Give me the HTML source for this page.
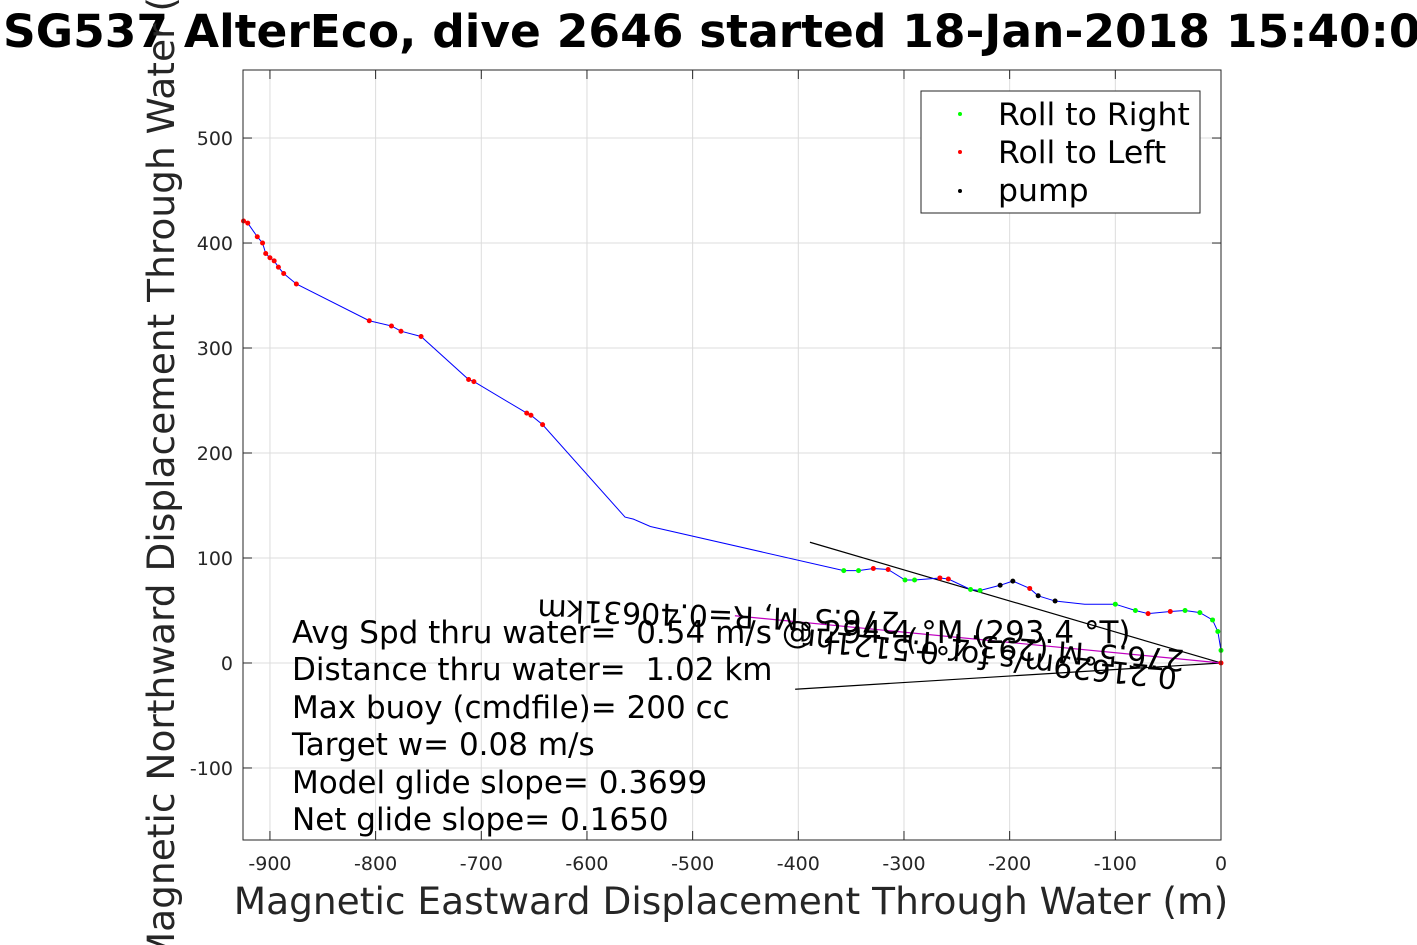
<!DOCTYPE html>
<html><head><meta charset="utf-8"><style>
html,body{margin:0;padding:0;background:#fff;}
svg{display:block;font-family:"DejaVu Sans","Liberation Sans",sans-serif;}
text{white-space:pre;}
</style></head><body>
<svg id="chart" width="1417" height="945" viewBox="0 0 1417 945" xmlns="http://www.w3.org/2000/svg">
<rect width="1417" height="945" fill="#fff"/>
<text x="3" y="47" font-size="45.5" font-weight="bold" fill="#000">SG537 AlterEco, dive 2646 started 18-Jan-2018 15:40:09</text>
<g id="grid"></g>
<g id="ticks"></g>
<g id="series"></g>
<rect x="243" y="70" width="978" height="770" fill="none" stroke="#262626" stroke-width="1"/>
<text x="731" y="914" font-size="37.5" text-anchor="middle" fill="#262626">Magnetic Eastward Displacement Through Water (m)</text>
<text transform="translate(174,455) rotate(-90)" font-size="37.5" text-anchor="middle" fill="#262626">Magnetic Northward Displacement Through Water (m)</text>
<g font-size="31" fill="#000">
<text x="292" y="643">Avg Spd thru water=  0.54 m/s @ 294.4 °M (293.4 °T)</text>
<text x="292" y="680">Distance thru water=  1.02 km</text>
<text x="292" y="718">Max buoy (cmdfile)= 200 cc</text>
<text x="292" y="755">Target w= 0.08 m/s</text>
<text x="292" y="793">Model glide slope= 0.3699</text>
<text x="292" y="830">Net glide slope= 0.1650</text>
</g>
<g font-size="30" fill="#000">
<text transform="translate(1178,668) rotate(186)">0.21629m/s for 0.5121hr</text>
<text transform="translate(1185,650) rotate(184)">276.5°M (293.4°T)</text>
<text transform="translate(900,612) rotate(182)">276.5°M, R=0.40631km</text>
</g>
<g>
<rect x="921" y="91" width="279" height="122" fill="#fff" stroke="#262626"/>
<circle cx="960" cy="114" r="2" fill="#00ff00"/>
<text x="998" y="125" font-size="31.5">Roll to Right</text>
<circle cx="960" cy="152" r="2" fill="#ff0000"/>
<text x="998" y="163" font-size="31.5">Roll to Left</text>
<circle cx="960" cy="191" r="2" fill="#000"/>
<text x="998" y="201" font-size="31.5">pump</text>
</g>
</svg>
<script>
const xTicks=[-900,-800,-700,-600,-500,-400,-300,-200,-100,0];
const yTicks=[-100,0,100,200,300,400,500];
const trackX=[-925,-921,-912,-907,-904,-900,-896,-892,-887,-875,-806,-785,-776,-757,-712,-707,-657,-653,-642,-564,-556,-540,-357,-343,-329,-315,-299,-290,-266,-258,-237,-228,-209,-197,-181,-173,-157,-129,-100,-81,-69,-48,-34,-20,-8,-3,0,0];
const trackY=[421,419,406,400,390,386,383,377,371,361,326,321,316,311,270,268,238,236,227,139,137,130,88,88,90,89,79,79,81,80,70,69,74,78,71,64,59,56,56,50,47,49,50,48,41,30,12,0];
const markerType=["L","L","L","L","L","L","L","L","L","L","L","L","L","L","L","L","L","L","L","N","N","N","G","G","L","L","G","G","L","L","G","G","P","P","L","P","P","N","G","G","L","L","G","G","G","G","G","L"];
const headLineA=[[-389,115],[0,0]];
const headLineB=[[-403,-25],[0,0]];
const currentLine=[[-460,45],[0,0]];

const X0=243,X1=1221,Y0=70,Y1=840,xMin=-925.5,xMax=0,yMin=-168.6,yMax=564.8;
const sx=v=>X0+(v-xMin)/(xMax-xMin)*(X1-X0);
const sy=v=>Y1-(v-yMin)/(yMax-yMin)*(Y1-Y0);
const NS="http://www.w3.org/2000/svg";
function mk(tag,attrs,parent){const e=document.createElementNS(NS,tag);for(const k in attrs)e.setAttribute(k,attrs[k]);parent.appendChild(e);return e;}
const grid=document.getElementById('grid'),ticks=document.getElementById('ticks'),series=document.getElementById('series');
xTicks.forEach(t=>{const x=sx(t);
 const g=mk('line',{x1:x,x2:x,y1:Y0,y2:Y1,stroke:'#dcdcdc','stroke-width':1},grid);
 
 
 mk('line',{x1:x,x2:x,y1:Y1,y2:Y1-9,stroke:'#262626'},ticks);
 mk('line',{x1:x,x2:x,y1:Y0,y2:Y0+9,stroke:'#262626'},ticks);
 const l=mk('text',{x:x,y:Y1+30,'font-size':19,'text-anchor':'middle',fill:'#262626'},ticks);
 l.textContent=t;
 
 
});
yTicks.forEach(t=>{const y=sy(t);
 const g=mk('line',{x1:X0,x2:X1,y1:y,y2:y,stroke:'#dcdcdc','stroke-width':1},grid);
 
 
 mk('line',{x1:X0,x2:X0+9,y1:y,y2:y,stroke:'#262626'},ticks);
 mk('line',{x1:X1,x2:X1-9,y1:y,y2:y,stroke:'#262626'},ticks);
 const l=mk('text',{x:X0-10,y:y+7,'font-size':19,'text-anchor':'end',fill:'#262626'},ticks);
 l.textContent=t;
 
 
});
function seg(pts,color,name){const p=mk('polyline',{points:pts.map(q=>sx(q[0])+','+sy(q[1])).join(' '),fill:'none',stroke:color,'stroke-width':1.2},series);
 
 }
seg(headLineA,'#000','heading-line-a');
seg(headLineB,'#000','heading-line-b');
seg(currentLine,'#c000c0','current-vector-line');
const trk=mk('polyline',{points:trackX.map((v,i)=>sx(v)+','+sy(trackY[i])).join(' '),fill:'none',stroke:'#0000ff','stroke-width':1},series);


const col={G:'#00ff00',L:'#ff0000',P:'#000'};
trackX.forEach((v,i)=>{const t=markerType[i];if(t==='N')return;
 const c=mk('circle',{cx:sx(v),cy:sy(trackY[i]),r:2.5,fill:col[t]},series);
 
 
});
</script>
</body></html>
